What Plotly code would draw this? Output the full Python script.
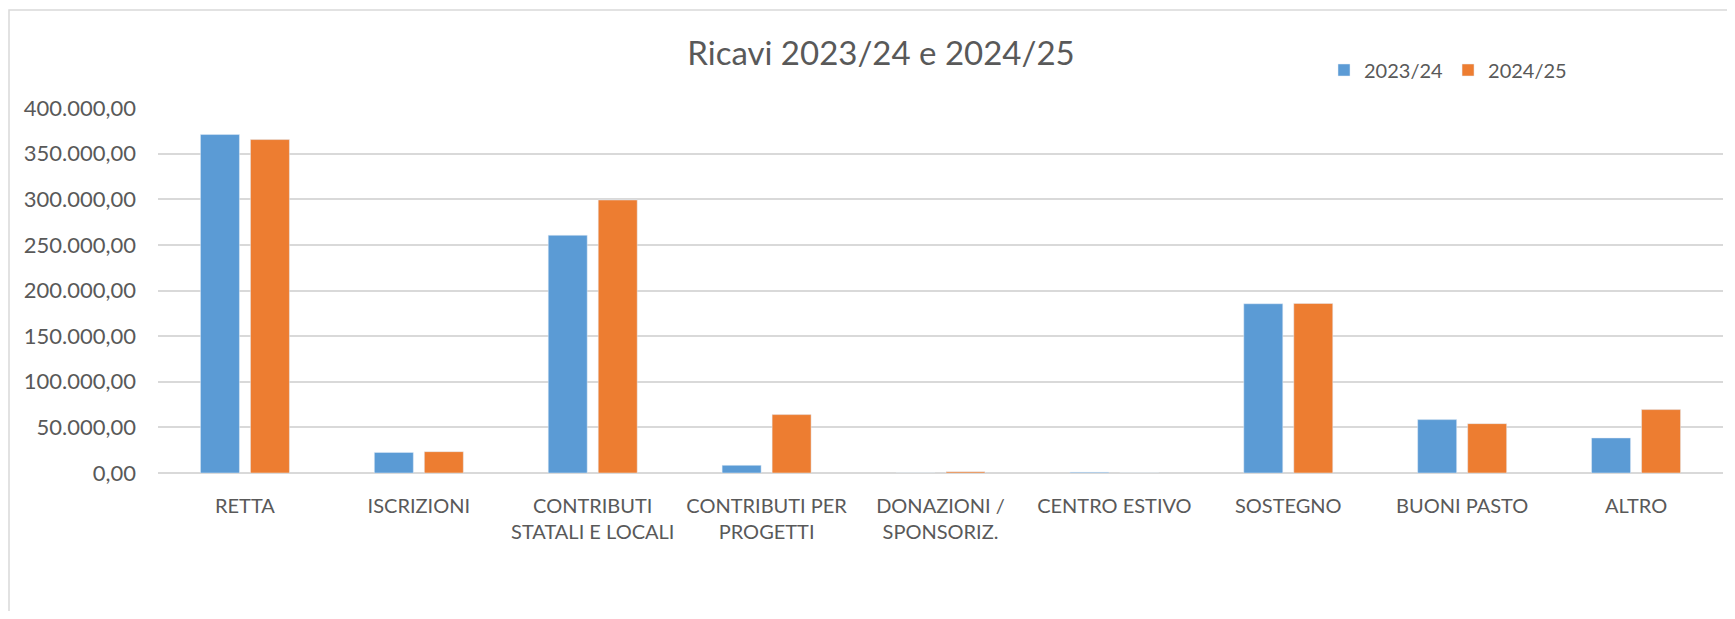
import plotly.graph_objects as go

categories = [
    "RETTA",
    "ISCRIZIONI",
    "CONTRIBUTI<br>STATALI E LOCALI",
    "CONTRIBUTI PER<br>PROGETTI",
    "DONAZIONI /<br>SPONSORIZ.",
    "CENTRO ESTIVO",
    "SOSTEGNO",
    "BUONI PASTO",
    "ALTRO",
]
ricavi_2023_24 = [370900, 22600, 260500, 8400, 0, 800, 185500, 58500, 38400]
ricavi_2024_25 = [365400, 23400, 299200, 64000, 1500, 0, 185800, 54100, 69500]
y_ticks = [0, 50000, 100000, 150000, 200000, 250000, 300000, 350000, 400000]

# the page body has an 8px margin, so the figure is 16px smaller than the window
OFF = 8
W, H = 1735 - 2 * OFF, 619 - 2 * OFF
L, R, T, B = 150, 4, 100, 138
pw, ph = W - L - R, H - T - B

def px_x(x):
    # page x -> paper x
    return (x - OFF - L) / pw

def px_y(y):
    # page y -> paper y
    return (H - B - (y - OFF)) / ph

text_col = "#595959"
grid_col = "#d9d9d9"
font_family = "Lato, 'Open Sans', sans-serif"

fig = go.Figure()
fig.add_trace(go.Bar(name="2023/24", x=categories, y=ricavi_2023_24,
                     marker=dict(color="#5B9BD5")))
fig.add_trace(go.Bar(name="2024/25", x=categories, y=ricavi_2024_25,
                     marker=dict(color="#ED7D31")))

fig.update_layout(
    width=W, height=H,
    margin=dict(l=L, r=R, t=T, b=B, autoexpand=False),
    paper_bgcolor="white", plot_bgcolor="white",
    separators=",.",
    font=dict(family=font_family, color=text_col, size=20),
    barmode="group", bargap=0.425, bargroupgap=0.22,
    title=dict(text="Ricavi 2023/24 e 2024/25", x=px_x(881), xref="paper",
               xanchor="center", y=1 - (53 - OFF) / H, yanchor="middle",
               font=dict(size=33, color=text_col)),
    legend=dict(orientation="h", x=px_x(1324), xanchor="left",
                y=px_y(70), yanchor="middle", font=dict(size=20),
                bgcolor="rgba(0,0,0,0)", itemclick=False),
    showlegend=True,
)
fig.update_xaxes(showgrid=False, showline=False, ticks="", zeroline=False,
                 tickfont=dict(size=20, color=text_col), ticklabelstandoff=19)
fig.update_yaxes(range=[0, 400000], tickvals=y_ticks, tickformat=",.2f",
                 showgrid=True, gridcolor=grid_col, gridwidth=1.5,
                 zeroline=True, zerolinecolor=grid_col, zerolinewidth=1.5,
                 showline=False, ticks="", ticklabelstandoff=21,
                 tickfont=dict(size=22, color=text_col))

# chart frame, as in the spreadsheet export (right and bottom edges are off-page)
fig.add_shape(type="rect", xref="paper", yref="paper",
              x0=px_x(9), x1=px_x(1760), y0=px_y(650), y1=px_y(10),
              line=dict(color=grid_col, width=1.5), fillcolor="rgba(0,0,0,0)",
              layer="below")

fig.write_html("out.html")
